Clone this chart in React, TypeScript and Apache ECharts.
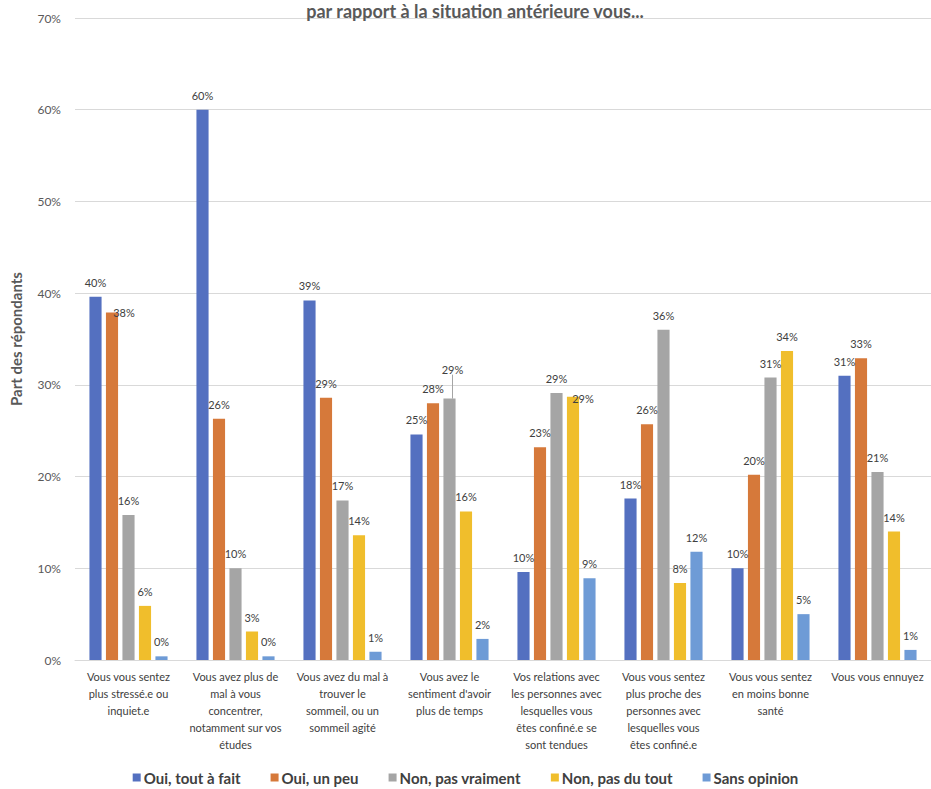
import React, { useEffect, useRef } from "react";
import * as echarts from "echarts";

const categories = [
  "Vous vous sentez\nplus stressé.e ou\ninquiet.e",
  "Vous avez plus de\nmal à vous\nconcentrer,\nnotamment sur vos\nétudes",
  "Vous avez du mal à\ntrouver le\nsommeil, ou un\nsommeil agité",
  "Vous avez le\nsentiment d'avoir\nplus de temps",
  "Vos relations avec\nles personnes avec\nlesquelles vous\nêtes confiné.e se\nsont tendues",
  "Vous vous sentez\nplus proche des\npersonnes avec\nlesquelles vous\nêtes confiné.e",
  "Vous vous sentez\nen moins bonne\nsanté",
  "Vous vous ennuyez",
];

const seriesNames = ["Oui, tout à fait", "Oui, un peu", "Non, pas vraiment", "Non, pas du tout", "Sans opinion"];

const ouiToutAFait = [39.6, 60.0, 39.2, 24.6, 9.6, 17.6, 10.0, 31.0];
const ouiUnPeu = [37.9, 26.3, 28.6, 28.0, 23.2, 25.7, 20.2, 32.9];
const nonPasVraiment = [15.8, 10.0, 17.4, 28.5, 29.1, 36.0, 30.8, 20.5];
const nonPasDuTout = [5.9, 3.1, 13.6, 16.2, 28.7, 8.4, 33.7, 14.0];
const sansOpinion = [0.4, 0.4, 0.9, 2.3, 8.9, 11.8, 5.0, 1.1];

const seriesValues = [ouiToutAFait, ouiUnPeu, nonPasVraiment, nonPasDuTout, sansOpinion];
const colors = ["#5470C0", "#D6793A", "#A5A5A5", "#F0BE2C", "#6E9BD6"];

// label nudges (series-index, data-index) to mimic the reference's collision avoidance
const labelShifts: Record<string, [number, number]> = {
  "1-0": [12, 15],
  "2-3": [3, -15],
  "3-4": [10, 16],
};

const FONT = "Lato, 'Open Sans', sans-serif";

export default function App() {
  const ref = useRef<HTMLDivElement>(null);
  useEffect(() => {
    if (!ref.current) return;
    const chart = echarts.init(ref.current, undefined, { renderer: "svg" });
    chart.setOption({
      animation: false,
      color: colors,
      textStyle: { fontFamily: FONT },
      title: {
        text: "par rapport à la situation antérieure vous...",
        left: 470,
        top: -3,
        textAlign: "center",
        textStyle: { fontFamily: FONT, fontSize: 18, fontWeight: "bold", color: "#595959" },
      },
      legend: {
        bottom: -1,
        left: "center",
        itemWidth: 8,
        itemHeight: 8,
        itemGap: 30,
        icon: "rect",
        textStyle: { fontFamily: FONT, fontSize: 15, fontWeight: "bold", color: "#404040", padding: [0, 0, 0, -2] },
        data: seriesNames,
      },
      grid: { left: 70, right: 0, top: 18, bottom: 129 },
      xAxis: {
        type: "category",
        data: categories,
        axisTick: { show: false },
        axisLine: { lineStyle: { color: "#D9D9D9" } },
        axisLabel: {
          interval: 0,
          color: "#404040",
          fontSize: 11,
          lineHeight: 17,
          margin: 8,
          fontFamily: FONT,
        },
      },
      yAxis: {
        type: "value",
        min: 0,
        max: 70,
        interval: 10,
        name: "Part des répondants",
        nameLocation: "middle",
        nameGap: 52,
        nameTextStyle: { fontFamily: FONT, fontSize: 15, fontWeight: "bold", color: "#595959" },
        axisLabel: { formatter: "{value}%", color: "#595959", fontSize: 12, margin: 14, fontFamily: FONT },
        splitLine: { lineStyle: { color: "#D9D9D9" } },
        axisLine: { show: false },
        axisTick: { show: false },
      },
      series: seriesNames.map((name, i) => ({
        name,
        type: "bar",
        data: seriesValues[i].map((v, j) =>
          labelShifts[`${i}-${j}`] && labelShifts[`${i}-${j}`][1] < 0
            ? { value: v, labelLine: { show: true, lineStyle: { color: "#A5A5A5", width: 1 } } }
            : v
        ),
        barGap: "36%",
        barCategoryGap: "27%",
        itemStyle: { color: colors[i] },
        label: {
          show: true,
          position: "top",
          distance: 9,
          color: "#404040",
          fontSize: 11,
          fontFamily: FONT,
          formatter: (p: any) => Math.round(p.value) + "%",
        },
        labelLayout: (p: any) => {
          const s = labelShifts[`${p.seriesIndex}-${p.dataIndex}`];
          return s ? { dx: s[0], dy: s[1] } : {};
        },
      })),
    });
    return () => chart.dispose();
  }, []);
  return <div ref={ref} style={{ position: "absolute", left: 0, top: 0, width: 931, height: 789 }} />;
}
